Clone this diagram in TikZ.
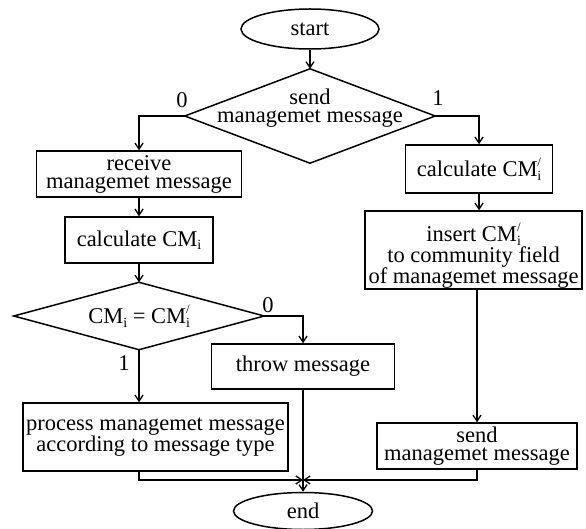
\documentclass[tikz,border=0pt]{standalone}
\usepackage{fontspec}
\setmainfont{Liberation Serif}
\usetikzlibrary{arrows.meta,shapes.geometric}

% CM with subscript i, and CM with subscript i and superscript slash
\newcommand\cmsubi{CM\raisebox{-3.5pt}{\fontsize{14}{14}\selectfont i}}
\newcommand\cmsubp{CM\rlap{\raisebox{-3.5pt}{\fontsize{14}{14}\selectfont i}}\raisebox{10pt}{\fontsize{13}{13}\selectfont /}}

\tikzset{
  every node/.style={font=\fontsize{22.5}{18}\selectfont},
  procbox/.style={draw, rectangle, line width=1.5pt, inner sep=0pt, align=center},
  termbox/.style={draw, ellipse, line width=1.5pt, inner sep=0pt},
  decision/.style={rectangle, inner sep=0pt, align=center},
  diamondline/.style={line width=1.5pt, line join=miter},
  link/.style={line width=2pt, -{Straight Barb[length=6pt,width=8pt,line width=1.3pt]}},
  lbl/.style={inner sep=0pt},
  textonly/.style={inner sep=0pt, align=center}
}

\begin{document}
\begin{tikzpicture}[x=1pt, y=-1pt]
\useasboundingbox (0,0) rectangle (586,529);

% terminals
\node[termbox, minimum width=138pt, minimum height=40pt] (start) at (310,29) {start};
\node[termbox, minimum width=139pt, minimum height=37pt] (end) at (303,511) {end};

% first decision
\node[decision, minimum width=250pt, minimum height=94pt] (d1) at (310,116) {};
\draw[diamondline] (d1.north) -- (d1.east) -- (d1.south) -- (d1.west) -- cycle;
\node[textonly] (d1text) at (310,108) {send\\managemet message};

% receiving side
\node[procbox, minimum width=205pt, minimum height=46pt] (recv) at (139,174) {receive\\managemet message};
\node[procbox, minimum width=148pt, minimum height=46pt] (calc) at (139,240) {calculate \cmsubi};

\node[decision, minimum width=250pt, minimum height=67pt] (d2) at (139,316) {\cmsubi{} = \cmsubp};
\draw[diamondline] (d2.north) -- (d2.east) -- (d2.south) -- (d2.west) -- cycle;

\node[procbox, minimum width=183pt, minimum height=45pt] (throw) at (303,366.5) {throw message};
\node[procbox, minimum width=265pt, minimum height=68pt] (proc) at (155.5,437) {process managemet message\\according to message type};

% sending side
\node[procbox, minimum width=147pt, minimum height=48pt] (calcp) at (479,169) {calculate \cmsubp};
\node[procbox, minimum width=217pt, minimum height=78pt] (insert) at (473.5,250) {};
\node[textonly] (inserttext) at (473.5,256) {insert \cmsubp\\to community field\\of managemet message};
\node[procbox, minimum width=200pt, minimum height=46pt] (send) at (477,446) {send\\managemet message};

% branch labels
\node[lbl] (l0a) at (182,100) {0};
\node[lbl] (l1a) at (438,98) {1};
\node[lbl] (l0b) at (268,305) {0};
\node[lbl] (l1b) at (124,363) {1};

% merge point above the end terminal
\coordinate (merge) at (303,480);
\coordinate (procout) at (139,480);
\coordinate (sendout) at (477,480);

% connectors
\draw[link] (start) -- (d1.north);
\draw[link] (d1.west) -| (recv.north);
\draw[link] (recv) -- (calc);
\draw[link] (calc) -- (d2.north);
\draw[link] (d2.east) -| (throw.north);
\draw[link] (d2.south) -- (d2.south |- proc.north);
\draw[link] (d1.east) -| (calcp.north);
\draw[link] (calcp.south) -- (calcp.south |- insert.north);
\draw[link] (insert.south -| send.north) -- (send.north);
\draw[link] (proc.south -| procout) -- (procout) -- (merge);
\draw[link] (send.south) -- (sendout) -- (merge);
\draw[link] (throw.south) -- (end.north);
\end{tikzpicture}
\end{document}
